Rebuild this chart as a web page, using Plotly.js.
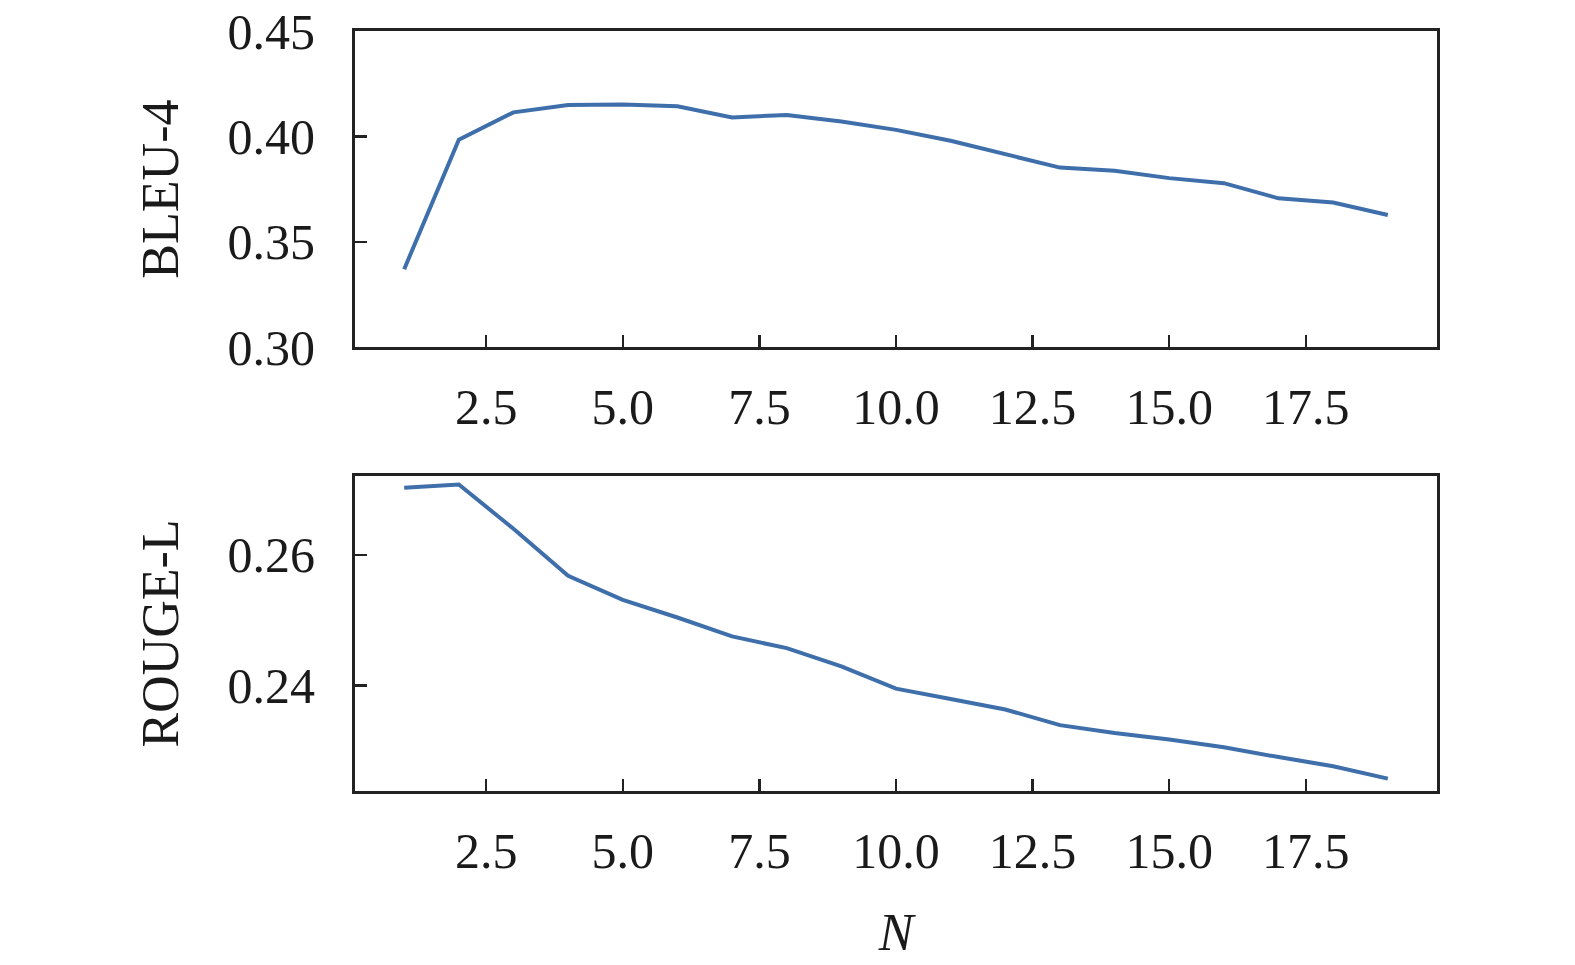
<!DOCTYPE html>
<html>
<head>
<meta charset="utf-8">
<script src="https://cdn.plot.ly/plotly-3.0.1.min.js"></script>
<style>body{margin:0;background:#fff}</style>
</head>
<body>
<div id="chart" style="width:1575px;height:965px"></div>
<script>
// N on the x axis, shared by both panels
var nValues = [1, 2, 3, 4, 5, 6, 7, 8, 9, 10, 11, 12, 13, 14, 15, 16, 17, 18, 19];

var bleu4 = [0.3370, 0.3984, 0.4114, 0.4149, 0.4151, 0.4143, 0.4090, 0.4102, 0.4071, 0.4031,
             0.3979, 0.3916, 0.3852, 0.3837, 0.3802, 0.3778, 0.3706, 0.3686, 0.3627];

var rougeL = [0.2703, 0.2708, 0.2640, 0.2568, 0.2531, 0.2504, 0.2475, 0.2457, 0.2429, 0.2395,
              0.2379, 0.2363, 0.2339, 0.2327, 0.2317, 0.2305, 0.2290, 0.2276, 0.2257];

var bleuTicks = [0.30, 0.35, 0.40, 0.45];
var rougeTicks = [0.24, 0.26];
var nTicks = [2.5, 5.0, 7.5, 10.0, 12.5, 15.0, 17.5];

var lineColor = '#3f6fab';
var ink = '#1a1a1a';
var family = '"Liberation Serif", "Times New Roman", serif';
var tickFont = {family: family, size: 50, color: ink};
var titleFont = {family: family, size: 52, color: ink};

var traceBleu = {
    x: nValues,
    y: bleu4,
    type: 'scatter',
    mode: 'lines',
    line: {color: lineColor, width: 4},
    xaxis: 'x',
    yaxis: 'y',
    showlegend: false
};

var traceRouge = {
    x: nValues,
    y: rougeL,
    type: 'scatter',
    mode: 'lines',
    line: {color: lineColor, width: 4},
    xaxis: 'x2',
    yaxis: 'y2',
    showlegend: false
};

// common look for every axis: box spines, inward ticks, no grid
function axisStyle(extra) {
    var base = {
        showline: true,
        linewidth: 3,
        linecolor: '#222',
        mirror: true,
        ticks: 'inside',
        ticklen: 12,
        tickwidth: 2.5,
        tickcolor: '#222',
        showgrid: false,
        zeroline: false,
        tickfont: tickFont,
        automargin: false
    };
    for (var k in extra) base[k] = extra[k];
    return base;
}

var layout = {
    width: 1575,
    height: 965,
    margin: {l: 355, r: 138, t: 31, b: 174},
    paper_bgcolor: '#fff',
    plot_bgcolor: '#fff',
    font: tickFont,
    xaxis: axisStyle({
        domain: [0, 1],
        range: [0.1, 19.9],
        tickvals: nTicks,
        tickformat: '.1f',
        ticklabelstandoff: 14,
        anchor: 'y'
    }),
    yaxis: axisStyle({
        domain: [0.584, 1],
        range: [0.30, 0.45],
        tickvals: bleuTicks,
        tickformat: '.2f',
        ticklabelstandoff: 27,
        anchor: 'x',
        title: {text: 'BLEU-4', font: titleFont, standoff: 33}
    }),
    xaxis2: axisStyle({
        domain: [0, 1],
        range: [0.1, 19.9],
        tickvals: nTicks,
        tickformat: '.1f',
        ticklabelstandoff: 14,
        anchor: 'y2',
        title: {text: '<i>N</i>', font: titleFont, standoff: 36}
    }),
    yaxis2: axisStyle({
        domain: [0, 0.4145],
        range: [0.2238, 0.2721],
        tickvals: rougeTicks,
        tickformat: '.2f',
        ticklabelstandoff: 27,
        anchor: 'x2',
        title: {text: 'ROUGE-L', font: titleFont, standoff: 33}
    })
};

Plotly.newPlot('chart', [traceBleu, traceRouge], layout, {displayModeBar: false, staticPlot: true});
</script>
</body>
</html>
